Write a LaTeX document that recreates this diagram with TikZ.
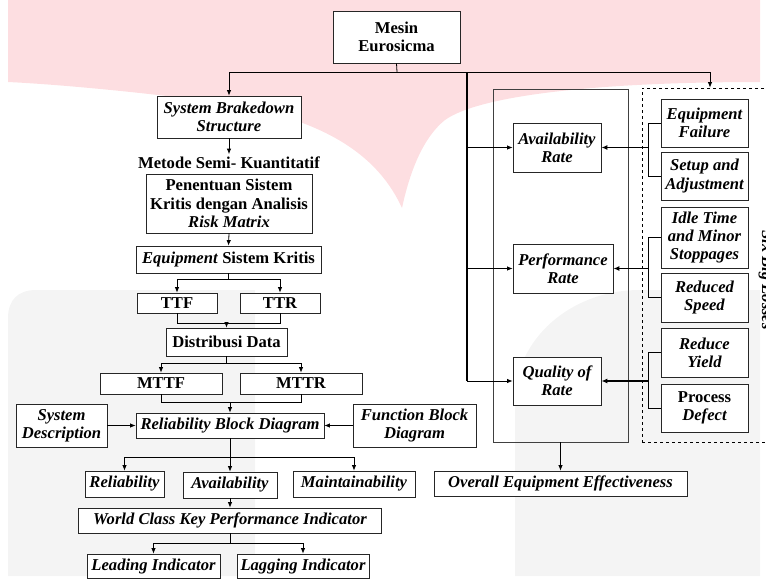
\documentclass[tikz,border=0pt]{standalone}
\usepackage{fontspec}
\setmainfont{Liberation Serif}
\usetikzlibrary{arrows.meta,calc}
\definecolor{wmpink}{RGB}{253,222,225}
\definecolor{wmgrey}{RGB}{244,244,244}
\newcommand\fsz{\fontsize{16.6}{18.3}\selectfont}
\begin{document}
\begin{tikzpicture}[x=1pt,y=-1pt,
  box/.style={draw=black!85, line width=0.8pt, fill=white, inner sep=0pt, align=center, font=\fsz\bfseries\itshape},
  ubox/.style={box, font=\fsz\bfseries},
  frame/.style={draw=black!75, line width=0.8pt, inner sep=0pt},
  arr/.style={-{Latex[length=5.5pt,width=4.5pt]}, line width=0.8pt},
  ln/.style={line width=0.8pt},
  thk/.style={-{Latex[length=6pt,width=5pt]}, line width=1.5pt}]
\useasboundingbox (0,0) rectangle (766,579);
% watermark
\fill[wmpink] (8,0) -- (760,0) -- (760,82)
  .. controls (600,82) and (480,95) .. (445,120)
  .. controls (420,140) and (408,180) .. (402,208)
  .. controls (380,160) and (330,115) .. (200,100)
  .. controls (120,90) and (50,84) .. (8,82) -- cycle;
\fill[wmgrey] (8,576) -- (8,318) .. controls (8,300) and (18,290) .. (36,290) -- (255,290) -- (255,576) -- cycle;
\fill[wmgrey] (515,576) -- (515,400) .. controls (515,340) and (570,290) .. (640,290) -- (760,290) -- (760,576) -- cycle;

% top
\node[ubox, minimum width=127, minimum height=52] (mesin) at (396.5,37) {Mesin\\Eurosicma};

% left column
\node[box, minimum width=144, minimum height=42] (sbs) at (229,117) {System Brakedown\\Structure};
\node[font=\fsz\bfseries, inner sep=2pt, anchor=base] (met) at (229,168) {Metode Semi- Kuantitatif};
\node[ubox, minimum width=166, minimum height=59] (pen) at (229,203.5) {Penentuan Sistem\\Kritis dengan Analisis\\\textit{Risk Matrix}};
\node[ubox, minimum width=185, minimum height=27] (esk) at (228.5,259.5) {\textit{Equipment} Sistem Kritis};
\node[ubox, minimum width=80, minimum height=20] (ttf) at (177,303) {TTF};
\node[ubox, minimum width=80, minimum height=20] (ttr) at (280,303) {TTR};
\node[ubox, minimum width=121, minimum height=28] (dd) at (226.5,342) {Distribusi Data};
\node[ubox, minimum width=122, minimum height=21] (mttf) at (161,383.5) {MTTF};
\node[ubox, minimum width=122, minimum height=21] (mttr) at (301,383.5) {MTTR};
\node[box, minimum width=188, minimum height=25] (rbd) at (230,425.5) {Reliability Block Diagram};
\node[box, minimum width=91, minimum height=43] (sd) at (61.5,425.5) {System\\Description};
\node[box, minimum width=123, minimum height=43] (fbd) at (414.5,425.5) {Function Block\\Diagram};
\node[box, minimum width=79, minimum height=26] (rel) at (124.5,484) {Reliability};
\node[box, minimum width=94, minimum height=26] (ava) at (230,485) {Availability};
\node[box, minimum width=122, minimum height=26] (mai) at (354,484) {Maintainability};
\node[box, minimum width=303, minimum height=25] (wc) at (230,520.5) {World Class Key Performance Indicator};
\node[box, minimum width=133, minimum height=24] (lead) at (153.5,566) {Leading Indicator};
\node[box, minimum width=132, minimum height=24] (lag) at (303,566) {Lagging Indicator};

% right part
\node[frame, minimum width=135, minimum height=353] (cont) at (560.5,265.5) {};
\node[box, minimum width=88, minimum height=49] (ar) at (557,147.5) {Availability\\Rate};
\node[box, minimum width=100, minimum height=49] (pr) at (563,268.5) {Performance\\Rate};
\node[box, minimum width=88, minimum height=48] (qr) at (557,381) {Quality of\\Rate};
\node[box, minimum width=253, minimum height=25] (oee) at (560.5,483.5) {Overall Equipment Effectiveness};
\node[draw=black, dashed, line width=0.8pt, inner sep=0pt, minimum width=136, minimum height=354] (dash) at (710,265) {};
\node[box, minimum width=87, minimum height=48] (ef) at (704.5,123) {Equipment\\Failure};
\node[box, minimum width=87, minimum height=48] (sa) at (704.5,176) {Setup and\\Adjustment};
\node[box, minimum width=87, minimum height=61] (it) at (704.5,237.5) {Idle Time\\and Minor\\Stoppages};
\node[box, minimum width=87, minimum height=49] (rs) at (704.5,297.5) {Reduced\\Speed};
\node[box, minimum width=87, minimum height=49] (ry) at (704.5,352.5) {Reduce\\Yield};
\node[box, minimum width=87, minimum height=48] (pd) at (704.5,408) {\upshape Process\\Defect};
\node[font=\fsz\bfseries\itshape, rotate=-90, anchor=base, inner sep=0pt] (sbl) at (762,280) {Six Big Losses};

% connectors: top
\coordinate (j0) at (397,72);
\coordinate (j1) at (467,72);
\draw[ln] (mesin.south) -- (j0);
\draw[arr] (j0) -| (sbs.north);
\draw[arr] (j0) -| (dash.north);
\draw[line width=1.3pt] (j1) -- (j1 |- qr.west);
\draw[arr] (j1 |- ar.west) -- (ar.west);
\draw[arr] (j1 |- pr.west) -- (pr.west);
\draw[arr] (j1 |- qr.west) -- (qr.west);
\draw[arr] (cont.south) -- (oee.north);

% brackets
\coordinate (ba) at (648,147.5);
\coordinate (bp) at (648,268.5);
\coordinate (bq) at (648,381);
\draw[ln] (ef.west) -- (ef.west -| ba) -- (sa.west -| ba) -- (sa.west);
\draw[ln] (it.west) -- (it.west -| bp) -- (rs.west -| bp) -- (rs.west);
\draw[ln] (ry.west) -- (ry.west -| bq) -- (pd.west -| bq) -- (pd.west);
\draw[thk] (ba) -- (ar.east);
\draw[thk] (bp) -- (pr.east);
\draw[thk] (bq) -- (qr.east);

% left column connectors
\draw[arr] (sbs.south) -- (met.north);
\draw[arr] (pen.south) -- (esk.north);
\draw[ln] (esk.south) -- ++(0,6) coordinate (j2);
\draw[arr] (j2) -| (ttf.north);
\draw[arr] (j2) -| (ttr.north);
\draw[ln] (ttf.south) -- ++(0,10) -| (ttr.south);
\coordinate (j3) at (226.5,323);
\draw[arr] (j3) -- (dd.north);
\draw[ln] (dd.south) -- ++(0,7) coordinate (j4);
\draw[arr] (j4) -| (mttf.north);
\draw[arr] (j4) -| (mttr.north);
\draw[ln] (mttf.south) -- ++(0,8) -| (mttr.south);
\coordinate (j5) at (230,402);
\draw[arr] (j5) -- (rbd.north);
\draw[arr] (sd.east) -- (rbd.west);
\draw[arr] (fbd.west) -- (rbd.east);
\draw[ln] (rbd.south) -- ++(0,19) coordinate (j6);
\draw[arr] (j6) -| (rel.north);
\draw[arr] (j6) -- (ava.north);
\draw[arr] (j6) -| (mai.north);
\draw[arr] (ava.south) -- (wc.north);
\draw[ln] (wc.south) -- ++(0,10) coordinate (j7);
\draw[arr] (j7) -| (lead.north);
\draw[arr] (j7) -| (lag.north);
\end{tikzpicture}
\end{document}
